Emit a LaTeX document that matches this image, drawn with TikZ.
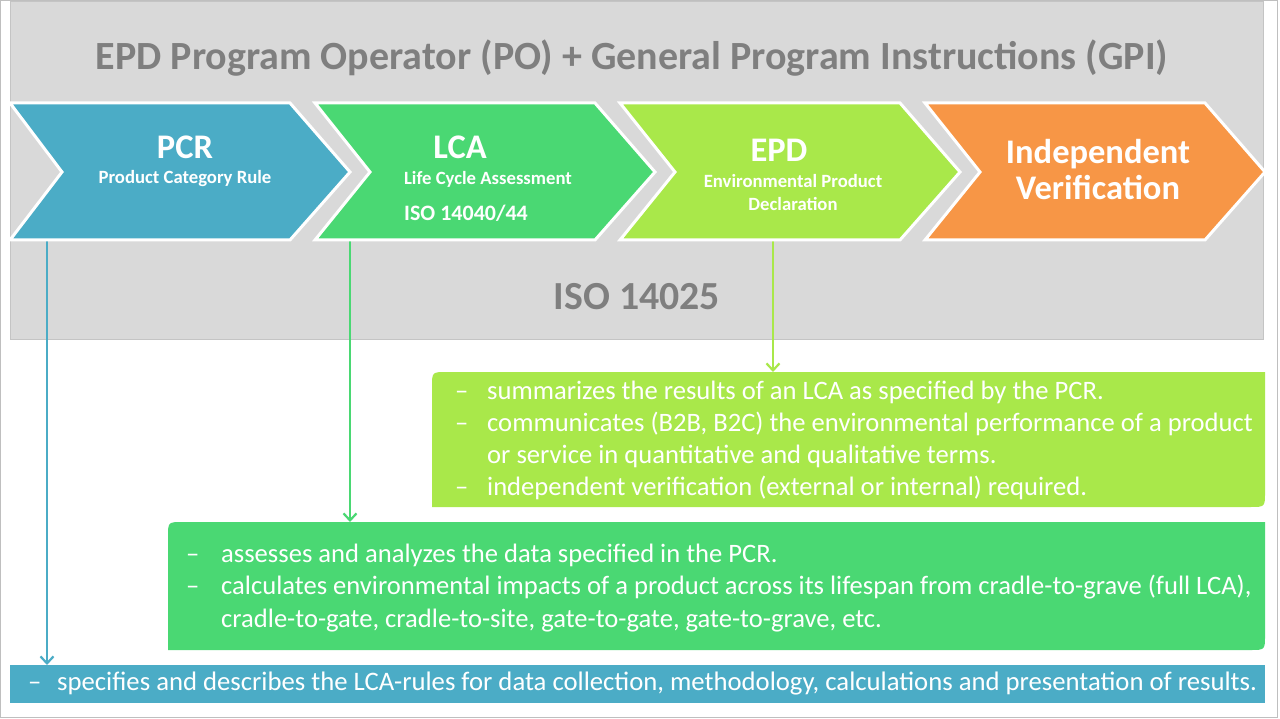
\documentclass[tikz,border=0pt]{standalone}
\usepackage{fontspec}
\setmainfont{Carlito}
\usetikzlibrary{arrows.meta}
\definecolor{pcrblue}{HTML}{4BACC6}
\definecolor{lcagreen}{HTML}{4AD873}
\definecolor{epdlime}{HTML}{A9E84A}
\definecolor{verorange}{HTML}{F79646}
\definecolor{bggray}{HTML}{D9D9D9}
\definecolor{bgborder}{HTML}{C4C4C4}
\definecolor{titlegray}{HTML}{7F7F7F}
\definecolor{framegray}{HTML}{BFBFBF}
\tikzset{
  chev/.style={draw=white, line width=3pt, line join=miter},
  chevtitle/.style={text=white, font=\fontsize{34.5}{36}\selectfont\bfseries, inner sep=0pt},
  chevsub/.style={text=white, font=\fontsize{18.7}{23}\selectfont\bfseries, inner sep=0pt, align=center},
  boxtext/.style={text=white, inner sep=0pt, anchor=west},
  conn/.style={line width=2.2pt, -{Straight Barb[length=7pt,width=13pt,line width=2.2pt]}},
  holder/.style={inner sep=0pt, anchor=north west}
}
\newcommand{\dashcol}[1]{\begin{tabular}{@{}p{#1}@{}l@{}}}
\begin{document}
\begin{tikzpicture}[x=1pt,y=-1pt]
\useasboundingbox (0,0) rectangle (1280,719);
\fill[white] (0,0) rectangle (1280,719);
\draw[framegray, line width=1pt] (0.5,0.5) rectangle (1277.5,717.5);
% gray background
\draw[fill=bggray, draw=bgborder, line width=1pt] (10,2) rectangle (1263,340);
\node[text=titlegray, font=\fontsize{40}{42}\selectfont\bfseries, inner sep=0pt] (title) at (632,58) {EPD Program Operator (PO) + General Program Instructions (GPI)};
\node[text=titlegray, font=\fontsize{39.8}{42}\selectfont\bfseries, inner sep=0pt] (iso) at (637,297) {ISO 14025};

% foot coordinates of connectors
\coordinate (pcrfoot) at (47,238);
\coordinate (lcafoot) at (350,238);
\coordinate (epdfoot) at (773,238);

% boxes (holders)
\node[holder, minimum width=833pt, minimum height=135pt] (epdbox) at (432,372) {};
\node[holder, minimum width=1097pt, minimum height=128pt] (lcabox) at (168,522) {};
\node[holder, minimum width=1255pt, minimum height=38pt] (pcrbox) at (10,665) {};

% connectors
\draw[conn, epdlime] (epdfoot) -- (epdfoot |- epdbox.north);
\draw[conn, lcagreen] (lcafoot) -- (lcafoot |- lcabox.north);
\draw[conn, pcrblue] (pcrfoot) -- (pcrfoot |- pcrbox.north);

% chevrons
\draw[chev, fill=pcrblue] (10,103) -- (290,103) -- (350,172) -- (290,240) -- (10,240) -- (62,172) -- cycle;
\draw[chev, fill=lcagreen] (315,103) -- (595,103) -- (655,172) -- (595,240) -- (315,240) -- (370,172) -- cycle;
\draw[chev, fill=epdlime] (620,103) -- (900,103) -- (960,172) -- (900,240) -- (620,240) -- (675,172) -- cycle;
\draw[chev, fill=verorange] (925,103) -- (1205,103) -- (1265,172) -- (1205,240) -- (925,240) -- (980,172) -- cycle;

\node[chevtitle] (pcrt) at (185,147) {PCR};
\node[chevsub] (pcrs) at (185,179) {Product Category Rule};
\node[chevtitle] (lcat) at (460,147) {LCA};
\node[chevsub] (lcas) at (488,179) {Life Cycle Assessment};
\node[text=white, font=\fontsize{22}{24}\selectfont\bfseries, inner sep=0pt] (lcaiso) at (466,213) {ISO 14040/44};
\node[chevtitle] (epdt) at (779,150) {EPD};
\node[chevsub] (epds) at (793,193) {Environmental Product\\Declaration};
\node[text=white, font=\fontsize{34.5}{36}\selectfont\bfseries, inner sep=0pt, align=center] (vert) at (1098,170) {Independent\\Verification};

% box fills
\fill[epdlime] (432,387) .. controls (432,372) .. (447,372) -- (1265,372) -- (1265,492) .. controls (1265,507) .. (1250,507) -- (432,507) -- cycle;
\fill[lcagreen] (168,537) .. controls (168,522) .. (183,522) -- (1265,522) -- (1265,635) .. controls (1265,650) .. (1250,650) -- (168,650) -- cycle;
\fill[pcrblue] (10,665) rectangle (1265,703);

% box texts
\node[boxtext, font=\fontsize{26.6}{32.3}\selectfont] (epdtxt) at (455,441) {\dashcol{32pt}
– & summarizes the results of an LCA as specified by the PCR.\\
– & communicates (B2B, B2C) the environmental performance of a product\\
 & or service in quantitative and qualitative terms.\\
– & independent verification (external or internal) required.
\end{tabular}};
\node[boxtext, font=\fontsize{26.6}{32.5}\selectfont] (lcatxt) at (186,588) {\dashcol{35pt}
– & assesses and analyzes the data specified in the PCR.\\
– & calculates environmental impacts of a product across its lifespan from cradle-to-grave (full LCA),\\
 & cradle-to-gate, cradle-to-site, gate-to-gate, gate-to-grave, etc.
\end{tabular}};
\node[boxtext, font=\fontsize{26.7}{28}\selectfont] (pcrtxt) at (28,685) {\dashcol{29pt}
– & specifies and describes the LCA-rules for data collection, methodology, calculations and presentation of results.
\end{tabular}};
\end{tikzpicture}
\end{document}
